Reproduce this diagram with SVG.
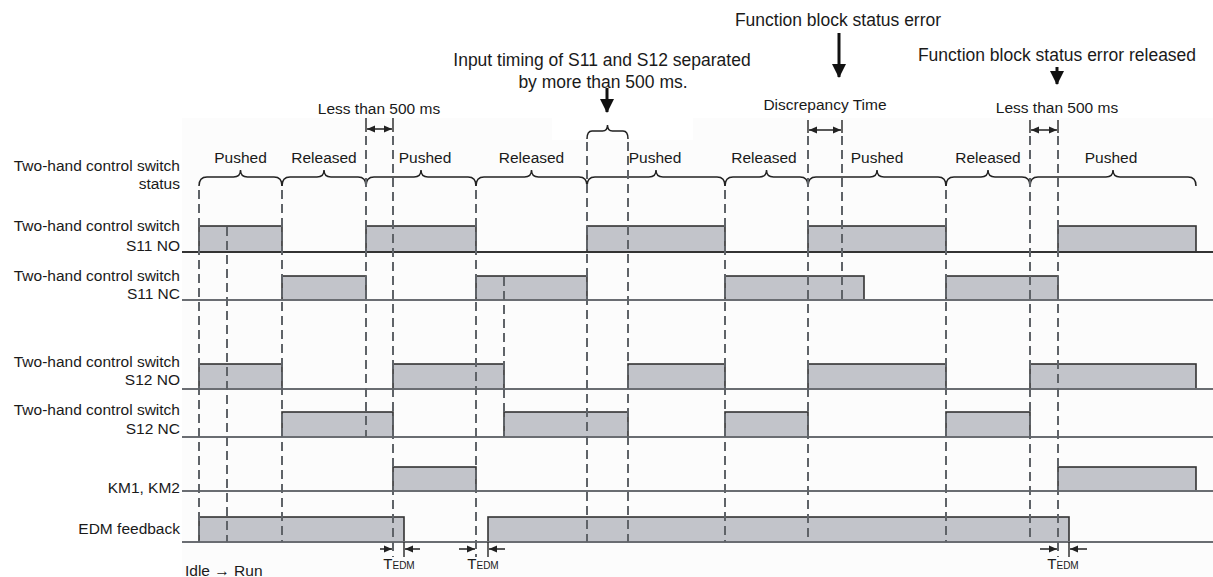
<svg xmlns="http://www.w3.org/2000/svg" width="1213" height="577" viewBox="0 0 1213 577">
<style>
text{font-family:"Liberation Sans",Arial,sans-serif;fill:#1a1a1a}
.lbl{font-size:15.5px;text-anchor:end}
.st{font-size:15.5px;text-anchor:middle}
.ann{font-size:17.5px;text-anchor:middle}
.base{stroke:#6a6d72;stroke-width:2;fill:none}
.base1{stroke:#333;stroke-width:2;fill:none}
.pulse{fill:#c2c4ca;stroke:#333;stroke-width:1.6}
.dash{stroke:#5f6368;stroke-width:2;stroke-dasharray:9 5;fill:none}
.brace{stroke:#222;stroke-width:1.5;fill:none}
.tick{stroke:#333;stroke-width:1.5}
.dim{stroke:#222;stroke-width:1.5;fill:none}
.big{stroke:#111;stroke-width:3;fill:none}
</style>
<defs>
<marker id="ah" markerWidth="8" markerHeight="8" refX="8" refY="4" orient="auto-start-reverse" markerUnits="userSpaceOnUse">
<path d="M0,0.5 L8,4 L0,7.5 Z" fill="#222"/>
</marker>
<marker id="bh" markerWidth="14" markerHeight="16" refX="13" refY="7" orient="auto" markerUnits="userSpaceOnUse">
<path d="M0,0 L14,7 L0,14 Z" fill="#111"/>
</marker>
</defs>
<rect x="0" y="0" width="1213" height="577" fill="#fff"/>
<rect x="182" y="118" width="1031" height="459" fill="#fcfcfc"/>
<rect x="552" y="117" width="141" height="23" fill="#fff"/>

<g id="row-labels">
<text class="lbl" x="180" y="171">Two-hand control switch</text>
<text class="lbl" x="180" y="189">status</text>
<text class="lbl" x="180" y="231">Two-hand control switch</text>
<text class="lbl" x="180" y="251">S11 NO</text>
<text class="lbl" x="180" y="281">Two-hand control switch</text>
<text class="lbl" x="180" y="299">S11 NC</text>
<text class="lbl" x="180" y="367">Two-hand control switch</text>
<text class="lbl" x="180" y="385">S12 NO</text>
<text class="lbl" x="180" y="415">Two-hand control switch</text>
<text class="lbl" x="180" y="434">S12 NC</text>
<text class="lbl" x="180" y="493">KM1, KM2</text>
<text class="lbl" x="180" y="534">EDM feedback</text>
<text x="185" y="576" style="font-size:15.5px">Idle → Run</text>
</g>

<g id="signals">
<g id="s11no">
<rect class="pulse" x="199" y="226" width="83" height="26"/>
<rect class="pulse" x="366" y="226" width="110" height="26"/>
<rect class="pulse" x="587" y="226" width="138" height="26"/>
<rect class="pulse" x="808" y="226" width="138" height="26"/>
<rect class="pulse" x="1058" y="226" width="138" height="26"/>
<line class="base1" x1="182" y1="252" x2="1213" y2="252"/>
</g>
<g id="s11nc">
<rect class="pulse" x="282" y="276" width="84" height="24"/>
<rect class="pulse" x="476" y="276" width="111" height="24"/>
<rect class="pulse" x="725" y="276" width="139" height="24"/>
<rect class="pulse" x="946" y="276" width="112" height="24"/>
<line class="base" x1="182" y1="300" x2="1213" y2="300"/>
</g>
<g id="s12no">
<rect class="pulse" x="199" y="364" width="83" height="25"/>
<rect class="pulse" x="393" y="364" width="111" height="25"/>
<rect class="pulse" x="628" y="364" width="97" height="25"/>
<rect class="pulse" x="808" y="364" width="138" height="25"/>
<rect class="pulse" x="1030" y="364" width="166" height="25"/>
<line class="base" x1="182" y1="389" x2="1213" y2="389"/>
</g>
<g id="s12nc">
<rect class="pulse" x="282" y="412" width="111" height="25"/>
<rect class="pulse" x="504" y="412" width="124" height="25"/>
<rect class="pulse" x="725" y="412" width="83" height="25"/>
<rect class="pulse" x="946" y="412" width="84" height="25"/>
<line class="base" x1="182" y1="437" x2="1213" y2="437"/>
</g>
<g id="km">
<rect class="pulse" x="393" y="467" width="83" height="24"/>
<rect class="pulse" x="1058" y="467" width="138" height="24"/>
<line class="base" x1="182" y1="491" x2="1213" y2="491"/>
</g>
<g id="edm">
<rect class="pulse" x="199" y="517" width="205" height="25"/>
<rect class="pulse" x="488" y="517" width="581" height="25"/>
<line class="base" x1="182" y1="542" x2="1213" y2="542"/>
</g>
</g>

<g id="status-braces">
<path class="brace" d="M199,186 C199,180 201,177 207,177 L233.5,177 C237.5,177 240.5,175 240.5,170 C240.5,175 243.5,177 247.5,177 L274,177 C280,177 282,180 282,186"/>
<path class="brace" d="M282,186 C282,180 284,177 290,177 L317,177 C321,177 324,175 324,170 C324,175 327,177 331,177 L358,177 C364,177 366,180 366,186"/>
<path class="brace" d="M366,186 C366,180 368,177 374,177 L414,177 C418,177 421,175 421,170 C421,175 424,177 428,177 L468,177 C474,177 476,180 476,186"/>
<path class="brace" d="M476,186 C476,180 478,177 484,177 L524.5,177 C528.5,177 531.5,175 531.5,170 C531.5,175 534.5,177 538.5,177 L579,177 C585,177 587,180 587,186"/>
<path class="brace" d="M587,186 C587,180 589,177 595,177 L649,177 C653,177 656,175 656,170 C656,175 659,177 663,177 L717,177 C723,177 725,180 725,186"/>
<path class="brace" d="M725,186 C725,180 727,177 733,177 L759.5,177 C763.5,177 766.5,175 766.5,170 C766.5,175 769.5,177 773.5,177 L800,177 C806,177 808,180 808,186"/>
<path class="brace" d="M808,186 C808,180 810,177 816,177 L870,177 C874,177 877,175 877,170 C877,175 880,177 884,177 L938,177 C944,177 946,180 946,186"/>
<path class="brace" d="M946,186 C946,180 948,177 954,177 L981,177 C985,177 988,175 988,170 C988,175 991,177 995,177 L1022,177 C1028,177 1030,180 1030,186"/>
<path class="brace" d="M1030,186 C1030,180 1032,177 1038,177 L1106,177 C1110,177 1113,175 1113,170 C1113,175 1116,177 1120,177 L1188,177 C1194,177 1196,180 1196,186"/>
<text class="st" x="240.5" y="163">Pushed</text>
<text class="st" x="324" y="163">Released</text>
<text class="st" x="425" y="163">Pushed</text>
<text class="st" x="531.5" y="163">Released</text>
<text class="st" x="655" y="163">Pushed</text>
<text class="st" x="764" y="163">Released</text>
<text class="st" x="877" y="163">Pushed</text>
<text class="st" x="988" y="163">Released</text>
<text class="st" x="1111" y="163">Pushed</text>
</g>

<g id="connectors">
<line class="dash" x1="199" y1="190" x2="199" y2="542"/>
<line class="dash" x1="227" y1="227" x2="227" y2="542"/>
<line class="dash" x1="282" y1="190" x2="282" y2="542"/>
<line class="dash" x1="366" y1="136" x2="366" y2="437"/>
<line class="dash" x1="393" y1="136" x2="393" y2="557"/>
<line class="dash" x1="476" y1="190" x2="476" y2="557"/>
<line class="dash" x1="504" y1="277" x2="504" y2="437"/>
<line class="dash" x1="587" y1="142" x2="587" y2="542"/>
<line class="dash" x1="628" y1="142" x2="628" y2="542"/>
<line class="dash" x1="725" y1="190" x2="725" y2="542"/>
<line class="dash" x1="808" y1="136" x2="808" y2="542"/>
<line class="dash" x1="842" y1="136" x2="842" y2="300"/>
<line class="dash" x1="946" y1="190" x2="946" y2="542"/>
<line class="dash" x1="1030" y1="136" x2="1030" y2="542"/>
<line class="dash" x1="1058" y1="136" x2="1058" y2="557"/>

<line class="tick" x1="366" y1="118" x2="366" y2="132"/>
<line class="tick" x1="393" y1="118" x2="393" y2="132"/>
<line class="dim" x1="367" y1="129" x2="392" y2="129" marker-start="url(#ah)" marker-end="url(#ah)"/>
<line class="tick" x1="808" y1="120" x2="808" y2="133"/>
<line class="tick" x1="842" y1="120" x2="842" y2="133"/>
<line class="dim" x1="809" y1="130" x2="841" y2="130" marker-start="url(#ah)" marker-end="url(#ah)"/>
<line class="tick" x1="1030" y1="120" x2="1030" y2="133"/>
<line class="tick" x1="1058" y1="120" x2="1058" y2="133"/>
<line class="dim" x1="1031" y1="130" x2="1057" y2="130" marker-start="url(#ah)" marker-end="url(#ah)"/>

<path class="brace" d="M587,139 C587,134 588,131 592,131 L602.5,131 C605.5,131 607.5,129 607.5,125 C607.5,129 609.5,131 612.5,131 L623,131 C627,131 628,134 628,139"/>

<line class="big" x1="607" y1="88" x2="607" y2="112" marker-end="url(#bh)"/>
<line class="big" x1="839" y1="33" x2="839" y2="77" marker-end="url(#bh)"/>
<line class="big" x1="1057" y1="67" x2="1057" y2="84" marker-end="url(#bh)"/>

<line class="tick" x1="404" y1="542" x2="404" y2="557"/>
<line class="tick" x1="488" y1="542" x2="488" y2="557"/>
<line class="tick" x1="1069" y1="542" x2="1069" y2="557"/>
<line class="dim" x1="380" y1="549" x2="392" y2="549" marker-end="url(#ah)"/>
<line class="dim" x1="420" y1="549" x2="405" y2="549" marker-end="url(#ah)"/>
<line class="dim" x1="459" y1="549" x2="475" y2="549" marker-end="url(#ah)"/>
<line class="dim" x1="505" y1="549" x2="489" y2="549" marker-end="url(#ah)"/>
<line class="dim" x1="1040" y1="549" x2="1057" y2="549" marker-end="url(#ah)"/>
<line class="dim" x1="1087" y1="549" x2="1070" y2="549" marker-end="url(#ah)"/>
</g>

<g id="annotations">
<text class="st" x="379" y="114">Less than 500 ms</text>
<text class="st" x="825" y="110">Discrepancy Time</text>
<text class="st" x="1057" y="113">Less than 500 ms</text>
<text class="ann" x="602" y="66">Input timing of S11 and S12 separated</text>
<text class="ann" x="603" y="88">by more than 500 ms.</text>
<text class="ann" x="838" y="26">Function block status error</text>
<text class="ann" x="1057" y="61">Function block status error released</text>
<text x="399" y="569" style="font-size:15px;text-anchor:middle">T<tspan style="font-size:10px">EDM</tspan></text>
<text x="483" y="569" style="font-size:15px;text-anchor:middle">T<tspan style="font-size:10px">EDM</tspan></text>
<text x="1063" y="569" style="font-size:15px;text-anchor:middle">T<tspan style="font-size:10px">EDM</tspan></text>
</g>
</svg>
